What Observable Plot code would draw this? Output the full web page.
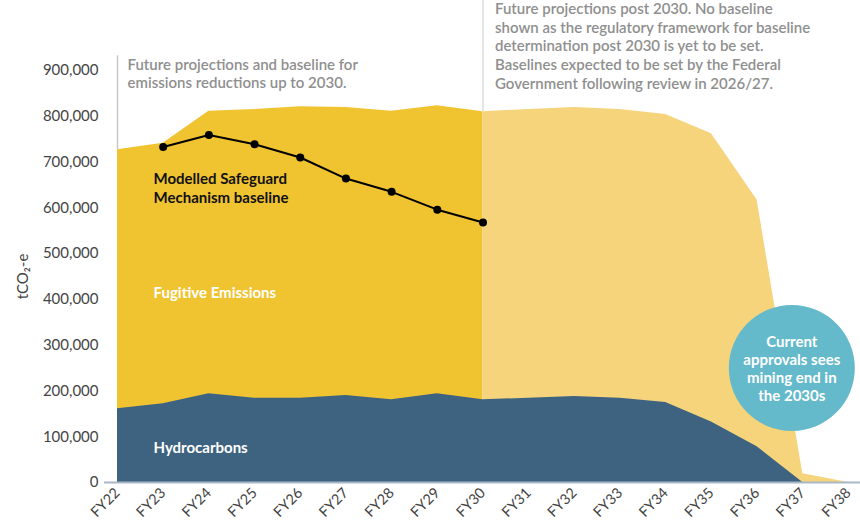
<!DOCTYPE html>
<html>
<head>
<meta charset="utf-8">
<script src="https://cdn.jsdelivr.net/npm/d3@7"></script>
<script src="https://cdn.jsdelivr.net/npm/@observablehq/plot@0.6"></script>
<style>
  body { margin: 0; background: #fff; font-family: Lato, "Open Sans", sans-serif; }
  #chart svg { display: block; overflow: visible; }
</style>
</head>
<body>
<div id="chart"></div>
<script>
const years = ["FY22","FY23","FY24","FY25","FY26","FY27","FY28","FY29","FY30","FY31","FY32","FY33","FY34","FY35","FY36","FY37","FY38"];
const totalEmissions = [727000, 741000, 811000, 815000, 821000, 819000, 811000, 823000, 810000, 815000, 819000, 815000, 804000, 762000, 617000, 19000, 0];
const hydrocarbons = [161000, 172000, 194000, 184000, 184000, 190000, 181000, 194000, 181000, 184000, 188000, 184000, 175000, 132000, 78000, 0, 0];
const baselineYears = ["FY23","FY24","FY25","FY26","FY27","FY28","FY29","FY30"];
const baselineValues = [733000, 759000, 739000, 710000, 664000, 635000, 596000, 568000];
const yTicks = [0,100000,200000,300000,400000,500000,600000,700000,800000,900000];

const rows = years.map((y, i) => ({year: y, i, total: totalEmissions[i], hydro: hydrocarbons[i]}));
const actual = rows.filter(d => d.i <= 8);
const future = rows.filter(d => d.i >= 8);
const baseline = baselineYears.map((y, i) => ({year: y, value: baselineValues[i]}));

const note1 = "Future projections and baseline for\nemissions reductions up to 2030.";
const note2 = "Future projections post 2030. No baseline\nshown as the regulatory framework for baseline\ndetermination post 2030 is yet to be set.\nBaselines expected to be set by the Federal\nGovernment following review in 2026/27.";

const chart = Plot.plot({
  width: 860,
  height: 525,
  marginLeft: 117,
  marginRight: 12,
  marginTop: 70,
  marginBottom: 43,
  style: {fontFamily: "Lato, sans-serif", background: "transparent"},
  x: {type: "point", domain: years, padding: 0, round: false},
  y: {domain: [0, 900000]},
  marks: [
    Plot.areaY(actual, {x: "year", y: "total", fill: "#F0C331", curve: "linear"}),
    Plot.areaY(future, {x: "year", y: "total", fill: "#F6D47C", curve: "linear"}),
    Plot.areaY(rows, {x: "year", y: "hydro", fill: "#3E6380", curve: "linear"}),
    Plot.ruleX([{year: "FY22", y1: totalEmissions[0], y2: 932000}], {x: "year", y1: "y1", y2: "y2", stroke: "#c8c8c8", strokeWidth: 1.5}),
    Plot.ruleX([{year: "FY30", y1: totalEmissions[8], y2: 1053000}], {x: "year", y1: "y1", y2: "y2", stroke: "#dcdcdc", strokeWidth: 1.5}),
    Plot.ruleY([0], {stroke: "#A9B7C8", strokeWidth: 2, insetLeft: -13, insetRight: -12}),
    Plot.line(baseline, {x: "year", y: "value", stroke: "#000", strokeWidth: 2}),
    Plot.dot(baseline, {x: "year", y: "value", fill: "#000", r: 4}),
    Plot.text([note1], {x: () => "FY22", y: () => 928000, dx: 10, text: d => d, textAnchor: "start", lineAnchor: "top", fontSize: 15, fontWeight: 600, fill: "#8f8f8f", lineHeight: 1.2}),
    Plot.text([note2], {x: () => "FY30", y: () => 1053000, dx: 12, text: d => d, textAnchor: "start", lineAnchor: "top", fontSize: 15, fontWeight: 600, fill: "#8f8f8f", lineHeight: 1.25}),
    Plot.text(["Modelled Safeguard\nMechanism baseline"], {x: () => "FY22", y: () => 681000, dx: 36, text: d => d, textAnchor: "start", lineAnchor: "top", fontSize: 15, fontWeight: 700, fill: "#111", lineHeight: 1.25}),
    Plot.text(["Fugitive Emissions"], {x: () => "FY22", y: () => 413000, dx: 36, text: d => d, textAnchor: "start", fontSize: 15, fontWeight: 700, fill: "#fff"}),
    Plot.text(["Hydrocarbons"], {x: () => "FY22", y: () => 76000, dx: 36, text: d => d, textAnchor: "start", fontSize: 15, fontWeight: 700, fill: "#fff"}),
    Plot.dot([{year: "FY37", v: 250000}], {x: "year", y: "v", dx: -11, r: 63, fill: "#64B9CB"}),
    Plot.text(["Current\napprovals sees\nmining end in\nthe 2030s"], {x: () => "FY37", y: () => 250000, dx: -11, text: d => d, textAnchor: "middle", fontSize: 15, fontWeight: 700, fill: "#fff", lineHeight: 1.2}),
    Plot.axisY({ticks: yTicks, tickFormat: d3.format(","), tickSize: 0, tickPadding: 19, fontSize: 15, fill: "#444", label: "tCO\u2082-e", labelAnchor: "center", labelArrow: "none", labelOffset: 100}),
    Plot.axisX({tickSize: 0, tickPadding: 8, tickRotate: -45, fontSize: 14.5, fill: "#444", label: null})
  ]
});
document.getElementById("chart").appendChild(chart);
</script>
</body>
</html>
